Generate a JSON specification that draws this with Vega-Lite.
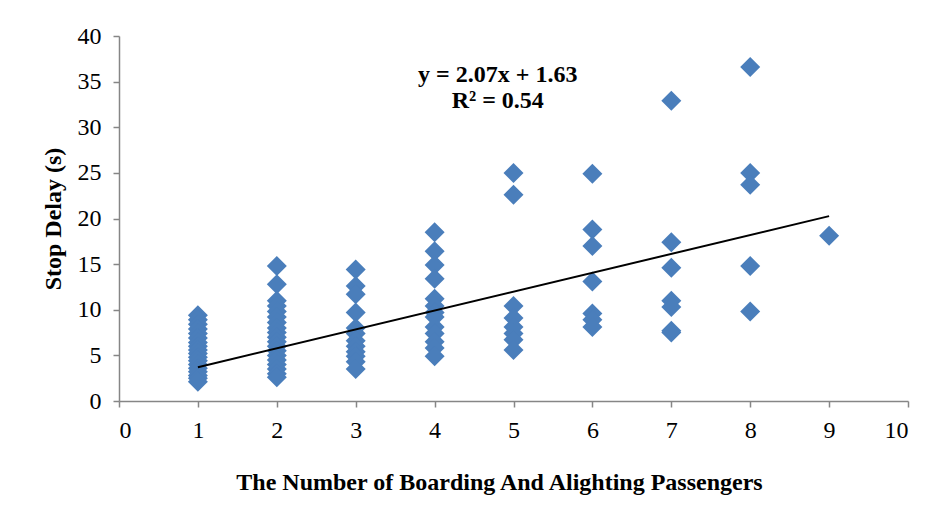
{
  "$schema": "https://vega.github.io/schema/vega-lite/v6.json",
  "width": 789,
  "height": 365,
  "autosize": "none",
  "padding": {"left": 119, "top": 36, "right": 37, "bottom": 110},
  "background": "white",
  "config": {
    "view": {"stroke": null},
    "font": "Liberation Serif"
  },
  "datasets": {
    "pts": [
      {"n": 1, "delay": 9.4}, {"n": 1, "delay": 8.9}, {"n": 1, "delay": 8.4}, {"n": 1, "delay": 7.9}, {"n": 1, "delay": 7.4}, {"n": 1, "delay": 6.9}, {"n": 1, "delay": 6.4}, {"n": 1, "delay": 6.0}, {"n": 1, "delay": 5.6}, {"n": 1, "delay": 5.2}, {"n": 1, "delay": 4.8}, {"n": 1, "delay": 4.4}, {"n": 1, "delay": 4.0}, {"n": 1, "delay": 3.6}, {"n": 1, "delay": 3.2}, {"n": 1, "delay": 2.8}, {"n": 1, "delay": 2.5}, {"n": 1, "delay": 2.1},
      {"n": 2, "delay": 14.8}, {"n": 2, "delay": 12.8}, {"n": 2, "delay": 11.0}, {"n": 2, "delay": 10.4}, {"n": 2, "delay": 9.8}, {"n": 2, "delay": 9.2}, {"n": 2, "delay": 8.6}, {"n": 2, "delay": 8.0}, {"n": 2, "delay": 7.5}, {"n": 2, "delay": 7.0}, {"n": 2, "delay": 6.5}, {"n": 2, "delay": 6.0}, {"n": 2, "delay": 5.5}, {"n": 2, "delay": 5.0}, {"n": 2, "delay": 4.5}, {"n": 2, "delay": 4.0}, {"n": 2, "delay": 3.5}, {"n": 2, "delay": 3.0}, {"n": 2, "delay": 2.6},
      {"n": 3, "delay": 14.4}, {"n": 3, "delay": 12.6}, {"n": 3, "delay": 11.7}, {"n": 3, "delay": 9.7}, {"n": 3, "delay": 8.0}, {"n": 3, "delay": 7.4}, {"n": 3, "delay": 6.6}, {"n": 3, "delay": 6.0}, {"n": 3, "delay": 5.4}, {"n": 3, "delay": 4.9}, {"n": 3, "delay": 4.3}, {"n": 3, "delay": 3.5},
      {"n": 4, "delay": 18.5}, {"n": 4, "delay": 16.4}, {"n": 4, "delay": 14.9}, {"n": 4, "delay": 13.4}, {"n": 4, "delay": 11.2}, {"n": 4, "delay": 10.4}, {"n": 4, "delay": 9.7}, {"n": 4, "delay": 9.2}, {"n": 4, "delay": 8.1}, {"n": 4, "delay": 7.4}, {"n": 4, "delay": 6.5}, {"n": 4, "delay": 5.8}, {"n": 4, "delay": 4.9},
      {"n": 5, "delay": 25.0}, {"n": 5, "delay": 22.6}, {"n": 5, "delay": 10.4}, {"n": 5, "delay": 9.1}, {"n": 5, "delay": 8.1}, {"n": 5, "delay": 7.4}, {"n": 5, "delay": 6.7}, {"n": 5, "delay": 5.6},
      {"n": 6, "delay": 24.9}, {"n": 6, "delay": 18.8}, {"n": 6, "delay": 17.0}, {"n": 6, "delay": 13.1}, {"n": 6, "delay": 9.6}, {"n": 6, "delay": 8.9}, {"n": 6, "delay": 8.1},
      {"n": 7, "delay": 32.9}, {"n": 7, "delay": 17.4}, {"n": 7, "delay": 14.6}, {"n": 7, "delay": 11.0}, {"n": 7, "delay": 10.3}, {"n": 7, "delay": 7.7}, {"n": 7, "delay": 7.5},
      {"n": 8, "delay": 36.6}, {"n": 8, "delay": 25.0}, {"n": 8, "delay": 23.7}, {"n": 8, "delay": 14.8}, {"n": 8, "delay": 9.8},
      {"n": 9, "delay": 18.1}
    ],
    "trend": [
      {"n": 1, "delay": 3.70},
      {"n": 9, "delay": 20.26}
    ],
    "notes": [
      {"n": 4.8, "delay": 35.7, "label": "y = 2.07x + 1.63"},
      {"n": 4.8, "delay": 32.9, "label": "R² = 0.54"}
    ]
  },
  "encoding": {
    "x": {
      "field": "n",
      "type": "quantitative",
      "scale": {"domain": [0, 10], "nice": false, "zero": false},
      "axis": {
        "title": "The Number of Boarding And Alighting Passengers",
        "values": [0, 1, 2, 3, 4, 5, 6, 7, 8, 9, 10],
        "grid": false,
        "domainColor": "#868686",
        "domainWidth": 1.5,
        "tickColor": "#868686",
        "tickWidth": 1.5,
        "tickSize": 6,
        "labelFont": "Liberation Serif",
        "labelFontSize": 24,
        "labelColor": "black",
        "labelPadding": 11,
        "titleFont": "Liberation Serif",
        "titleFontSize": 24,
        "titleFontWeight": "bold",
        "titleColor": "black",
        "titlePadding": 28,
        "titleX": 380
      }
    },
    "y": {
      "field": "delay",
      "type": "quantitative",
      "scale": {"domain": [0, 40], "nice": false, "zero": false},
      "axis": {
        "title": "Stop Delay (s)",
        "values": [0, 5, 10, 15, 20, 25, 30, 35, 40],
        "grid": false,
        "domainColor": "#868686",
        "domainWidth": 1.5,
        "tickColor": "#868686",
        "tickWidth": 1.5,
        "tickSize": 6,
        "labelFont": "Liberation Serif",
        "labelFontSize": 24,
        "labelColor": "black",
        "labelPadding": 12,
        "titleFont": "Liberation Serif",
        "titleFontSize": 24,
        "titleFontWeight": "bold",
        "titleColor": "black",
        "titlePadding": 12
      }
    }
  },
  "layer": [
    {
      "data": {"name": "pts"},
      "mark": {"type": "point", "shape": "diamond", "filled": true, "size": 400, "color": "#4A7EBB", "opacity": 1, "strokeWidth": 0}
    },
    {
      "data": {"name": "trend"},
      "mark": {"type": "line", "color": "black", "strokeWidth": 2}
    },
    {
      "data": {"name": "notes"},
      "mark": {"type": "text", "font": "Liberation Serif", "fontSize": 24, "fontWeight": "bold", "color": "black", "align": "center", "baseline": "middle"},
      "encoding": {"text": {"field": "label"}}
    }
  ]
}
